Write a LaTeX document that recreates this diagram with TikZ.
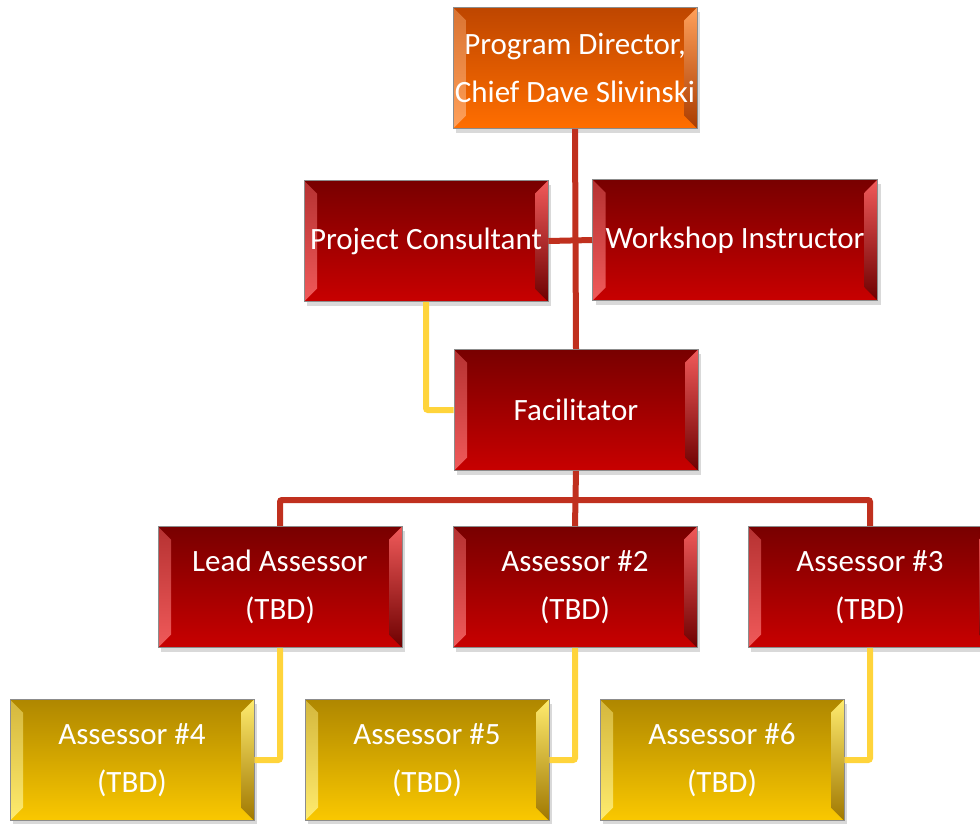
\documentclass[tikz,border=0pt]{standalone}
\usepackage{fontspec}
\setmainfont{Carlito}
\usetikzlibrary{shadows}

\definecolor{redtop}{RGB}{120,0,0}
\definecolor{redbot}{RGB}{200,0,0}
\definecolor{redlite}{RGB}{240,90,90}
\definecolor{reddark}{RGB}{110,0,0}
\definecolor{ortop}{RGB}{190,70,0}
\definecolor{orbot}{RGB}{255,110,0}
\definecolor{orlite}{RGB}{255,160,90}
\definecolor{ordark}{RGB}{170,60,0}
\definecolor{yetop}{RGB}{175,135,0}
\definecolor{yebot}{RGB}{250,200,0}
\definecolor{yelite}{RGB}{255,235,110}
\definecolor{yedark}{RGB}{160,120,0}
\definecolor{redwire}{RGB}{192,48,30}
\definecolor{yewire}{RGB}{255,212,59}

% bevel: top, bottom, light side, dark side
\newcommand{\bevelfill}[4]{%
  \shade[top color=#1, bottom color=#2] (path picture bounding box.south west) rectangle (path picture bounding box.north east);
  \shade[top color=#3!55!#4, bottom color=#3] (path picture bounding box.north west) -- (path picture bounding box.south west) -- ([xshift=13pt,yshift=13pt]path picture bounding box.south west) -- ([xshift=13pt,yshift=-13pt]path picture bounding box.north west) -- cycle;
  \shade[top color=#3, bottom color=#4] (path picture bounding box.north east) -- (path picture bounding box.south east) -- ([xshift=-13pt,yshift=13pt]path picture bounding box.south east) -- ([xshift=-13pt,yshift=-13pt]path picture bounding box.north east) -- cycle;
}

\tikzset{
  box/.style={rectangle, minimum width=244pt, minimum height=121pt, inner sep=0pt,
    align=center, text=white, font=\fontsize{31}{48}\selectfont,
    draw=black!45, line width=0.6pt,
    drop shadow={shadow xshift=3pt, shadow yshift=-4pt, opacity=0.3}},
  redbox/.style={box, path picture={\bevelfill{redtop}{redbot}{redlite}{reddark}}},
  orbox/.style={box, path picture={\bevelfill{ortop}{orbot}{orlite}{ordark}}},
  yebox/.style={box, path picture={\bevelfill{yetop}{yebot}{yelite}{yedark}}},
  redline/.style={draw=redwire, line width=6pt, rounded corners=2pt},
  yeline/.style={draw=yewire, line width=6pt, rounded corners=2pt}
}

\begin{document}
\begin{tikzpicture}[x=1pt,y=-1pt]
  \useasboundingbox (0,0) rectangle (980,823);

  \node[orbox] (dir) at (575,68) {Program Director,\\Chief Dave Slivinski};
  \node[redbox] (pc) at (426,241) {Project Consultant};
  \node[redbox, minimum width=285pt] (wi) at (735,240) {Workshop Instructor};
  \node[redbox] (fac) at (576,410) {Facilitator};

  \node[redbox] (la) at (280,587) {Lead Assessor\\(TBD)};
  \node[redbox] (a2) at (575,587) {Assessor \#2\\(TBD)};
  \node[redbox] (a3) at (870,587) {Assessor \#3\\(TBD)};

  \node[yebox] (a4) at (132,760) {Assessor \#4\\(TBD)};
  \node[yebox] (a5) at (427,760) {Assessor \#5\\(TBD)};
  \node[yebox] (a6) at (722,760) {Assessor \#6\\(TBD)};

  \coordinate (bar) at (575,500);

  \draw[redline] (dir.south) -- (fac.north);
  \draw[redline] (pc.east) -- (wi.west);
  \draw[yeline] (pc.south) |- (fac.west);

  \draw[redline] (fac.south) -- (a2.north);
  \draw[redline] (la.north) |- (bar) -| (a3.north);

  \draw[yeline] (la.south) |- (a4.east);
  \draw[yeline] (a2.south) |- (a5.east);
  \draw[yeline] (a3.south) |- (a6.east);

\end{tikzpicture}
\end{document}
